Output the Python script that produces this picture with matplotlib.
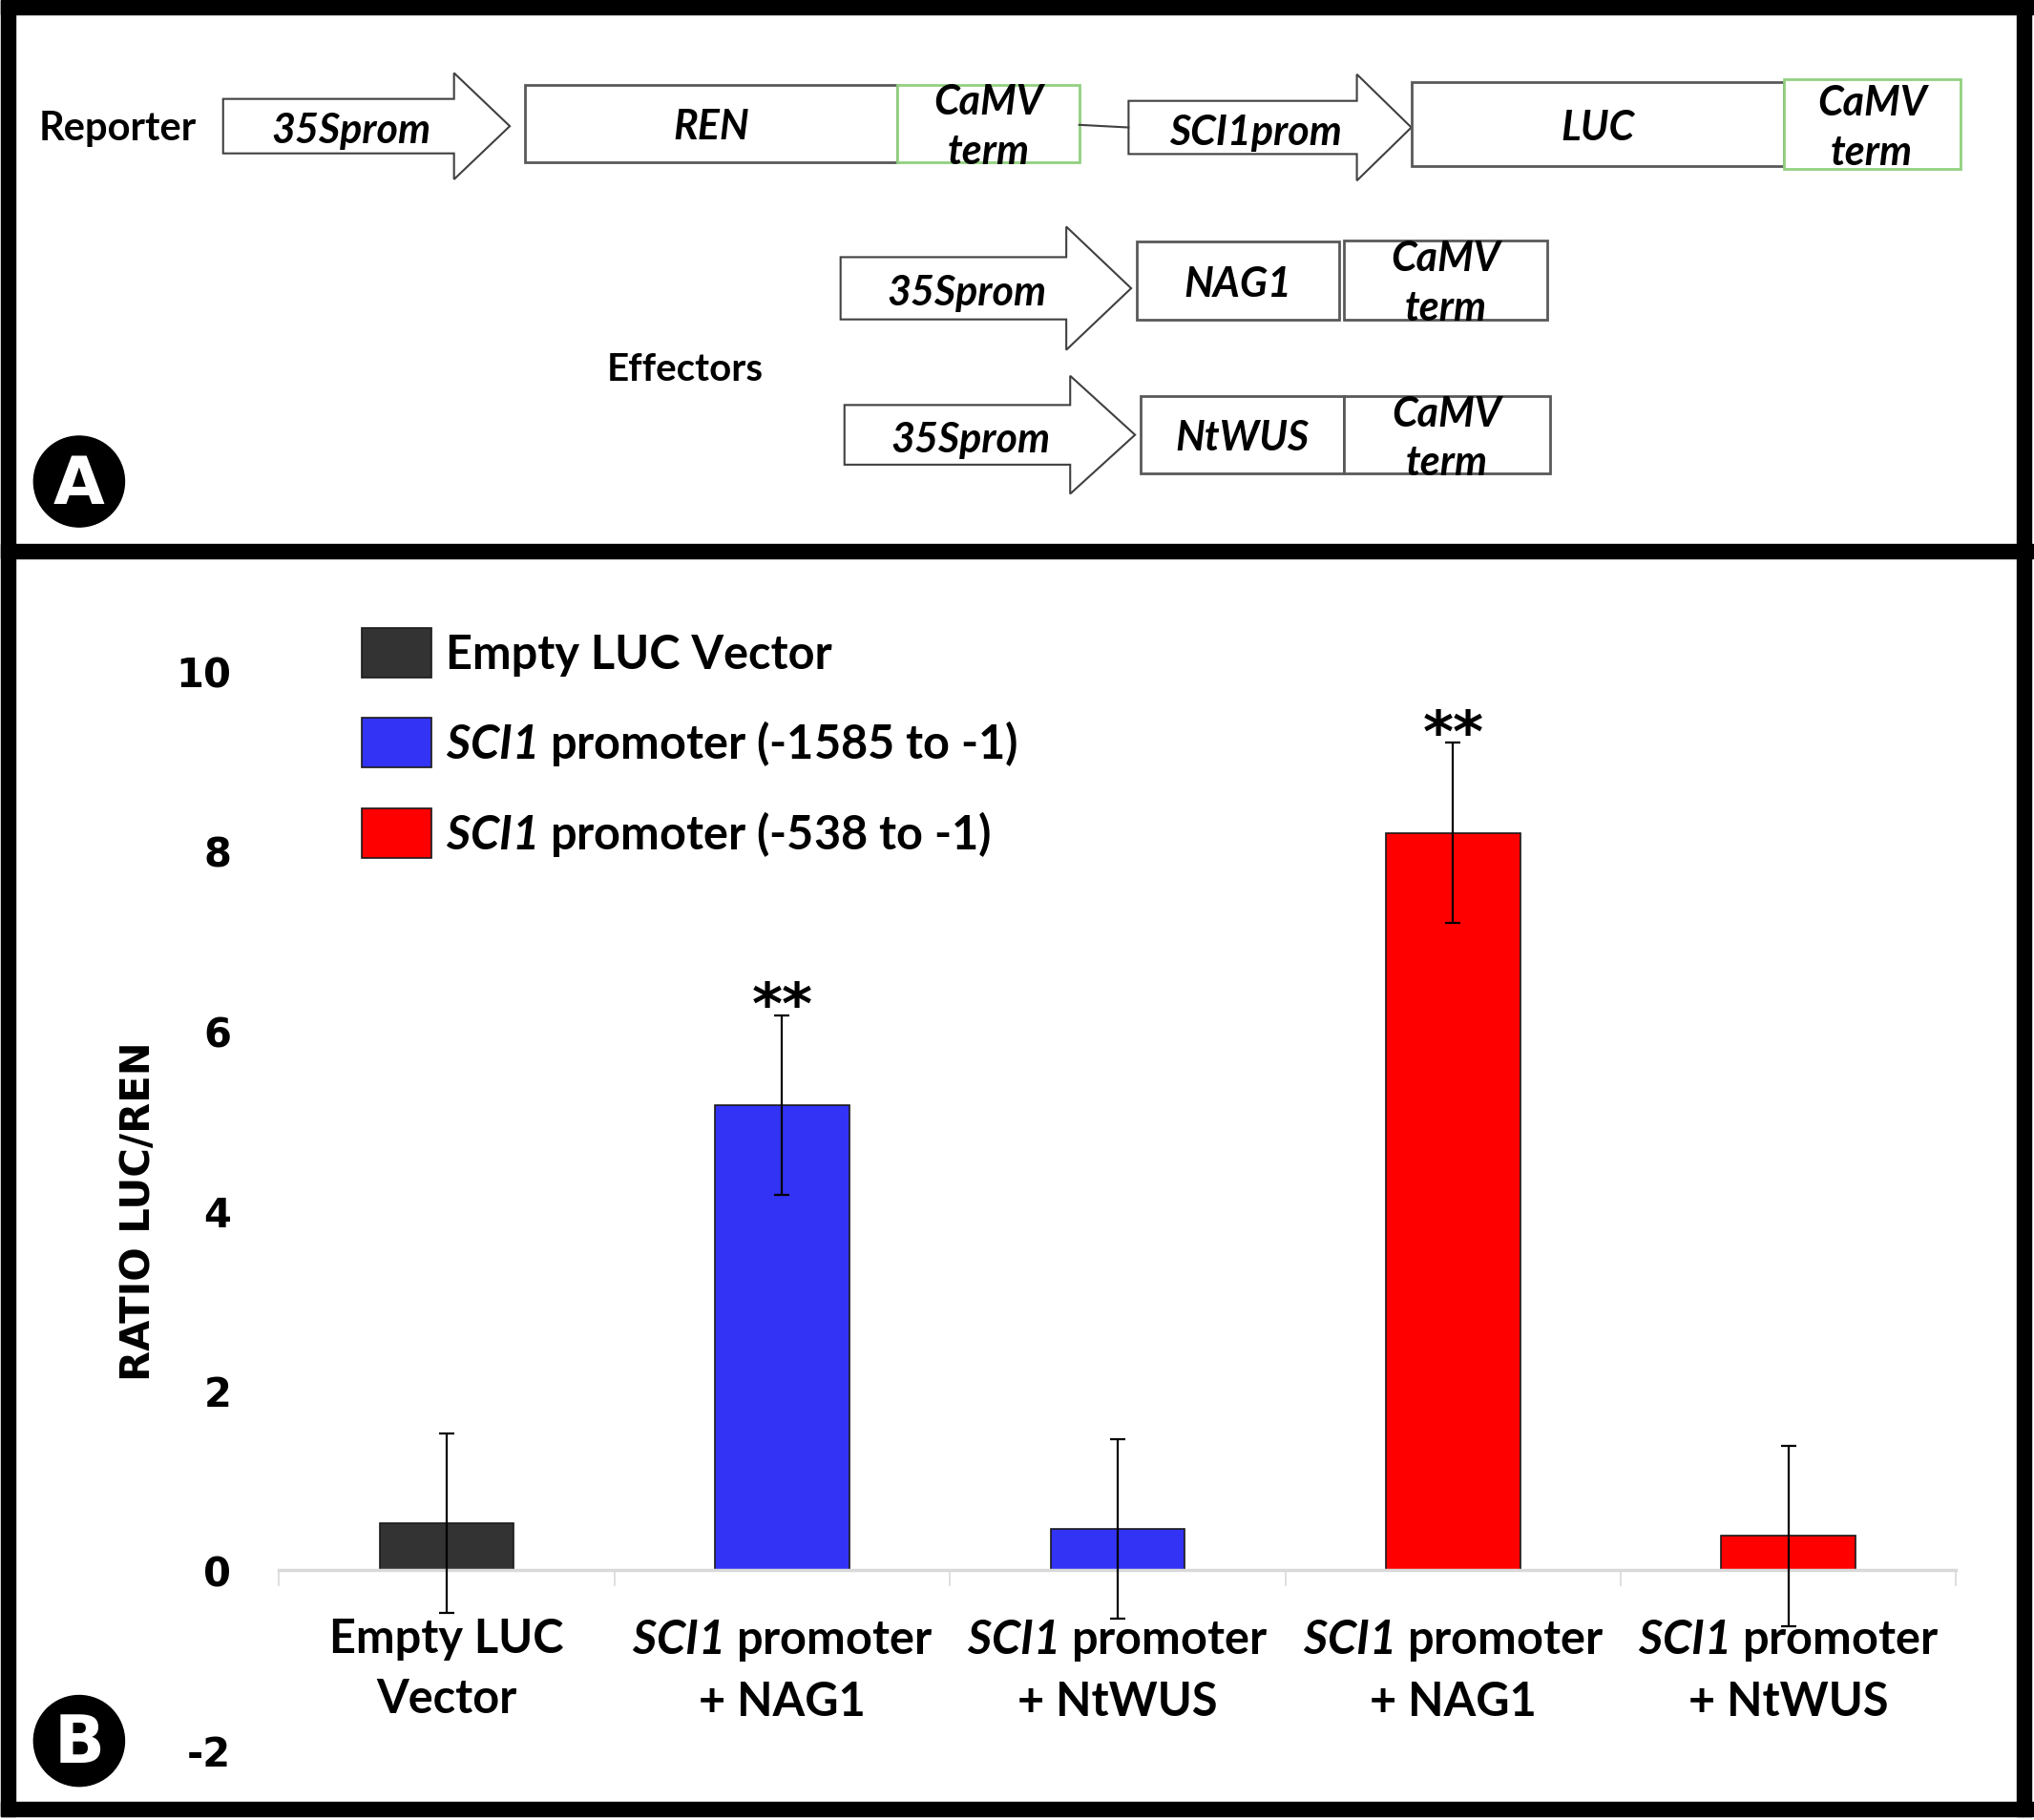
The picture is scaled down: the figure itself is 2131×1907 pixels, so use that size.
import numpy as np
import matplotlib
matplotlib.use("Agg")
import matplotlib.pyplot as plt
from matplotlib.patches import Rectangle, Polygon, Circle

plt.rcParams['font.family'] = ['Lato', 'DejaVu Sans']
plt.rcParams['mathtext.fontset'] = 'custom'
# math parts are only used for the italic gene name, digits included
plt.rcParams['mathtext.it'] = 'Lato:italic:bold'
plt.rcParams['mathtext.rm'] = 'Lato:italic:bold'

# data
groups = ['Empty LUC\nVector',
          r'$\mathrm{SCI1}$ promoter' + '\n+ NAG1',
          r'$\mathrm{SCI1}$ promoter' + '\n+ NtWUS',
          r'$\mathrm{SCI1}$ promoter' + '\n+ NAG1',
          r'$\mathrm{SCI1}$ promoter' + '\n+ NtWUS']
ratio = [0.52, 5.17, 0.46, 8.2, 0.38]
err = [1.0, 1.0, 1.0, 1.0, 1.0]
signif = ['', '**', '', '**', '']
colors = ['#333333', '#3333f5', '#3333f5', '#ff0000', '#ff0000']
legend_labels = ['Empty LUC Vector',
                 r'$\mathrm{SCI1}$ promoter (-1585 to -1)',
                 r'$\mathrm{SCI1}$ promoter (-538 to -1)']
legend_colors = ['#333333', '#3333f5', '#ff0000']
yticks = [-2, 0, 2, 4, 6, 8, 10]

W, H = 1568, 1404
fig = plt.figure(figsize=(21.31, 19.08), dpi=100)
fig.patch.set_facecolor('white')

# overlay in picture units for the panel frames and the construct diagram
ov = fig.add_axes([0, 0, 1, 1])
ov.set_xlim(0, W)
ov.set_ylim(H, 0)
ov.axis('off')

# frames
k = 'black'
ov.add_patch(Rectangle((1, 1), W - 2, 11, color=k))
ov.add_patch(Rectangle((1, 1), 11, 1400, color=k))
ov.add_patch(Rectangle((1555, 1), 11, 1400, color=k))
ov.add_patch(Rectangle((1, 1390), W - 2, 11, color=k))
ov.add_patch(Rectangle((1, 420), W - 2, 11, color=k))

box_ec = '#595959'
green = '#92d080'
fs_a = 31


def arrow(x0, xh, x1, yc, bh, hh, label):
    pts = [(x0, yc - bh / 2), (xh, yc - bh / 2), (xh, yc - hh / 2), (x1, yc),
           (xh, yc + hh / 2), (xh, yc + bh / 2), (x0, yc + bh / 2)]
    ov.add_patch(Polygon(pts, closed=True, fc='white', ec='#404040', lw=1.5))
    ov.text((x0 + xh) / 2 + 10, yc + 3, label, ha='center', va='center',
            fontsize=fs_a, fontweight='bold', style='italic')


def box(x0, x1, y0, y1, label, ec=box_ec, two=False):
    ov.add_patch(Rectangle((x0, y0), x1 - x0, y1 - y0, fc='white', ec=ec, lw=2))
    if two:
        yc = (y0 + y1) / 2
        ov.text((x0 + x1) / 2, yc - 17, 'CaMV', ha='center', va='center',
                fontsize=fs_a, fontweight='bold', style='italic')
        ov.text((x0 + x1) / 2, yc + 21, 'term', ha='center', va='center',
                fontsize=fs_a, fontweight='bold', style='italic')
    else:
        ov.text((x0 + x1) / 2, (y0 + y1) / 2 + 2, label, ha='center', va='center',
                fontsize=fs_a, fontweight='bold', style='italic')


ov.text(30, 99, 'Reporter', ha='left', va='center', fontsize=30, fontweight='bold')
arrow(172, 350, 393, 98, 42, 82, '35Sprom')
box(405, 692, 66, 126, 'REN')
box(692, 832, 66, 126, '', ec=green, two=True)
ov.plot([832, 870], [97, 99], color='#404040', lw=1.5)
arrow(870, 1046, 1088, 99, 41, 82, 'SCI1prom')
box(1088, 1375, 64, 129, 'LUC')
box(1375, 1511, 62, 131, '', ec=green, two=True)

ov.text(468, 285, 'Effectors', ha='left', va='center', fontsize=29, fontweight='bold')
arrow(648, 822, 872, 223, 48, 95, '35Sprom')
box(876, 1032, 187, 247, 'NAG1')
box(1036, 1193, 186, 247, '', two=True)
arrow(651, 825, 875, 336, 46, 91, '35Sprom')
box(879, 1036, 306, 366, 'NtWUS')
box(1036, 1195, 306, 366, '', two=True)

for (cx, cy, letter) in [(61, 372, 'A'), (61, 1343, 'B')]:
    ov.add_patch(Circle((cx, cy), 35, color='black'))
    ov.text(cx, cy + 2, letter, ha='center', va='center', color='white',
            fontsize=50, fontweight='bold', family='DejaVu Sans')

# bar chart panel
left, right, top, bottom = 215, 1508, 518, 1350
ax = fig.add_axes([left / W, 1 - bottom / H, (right - left) / W, (bottom - top) / H])
ax.patch.set_alpha(0)
x = np.arange(len(ratio))
bars = ax.bar(x, ratio, width=0.4, color=colors, edgecolor='#1a1a1a', linewidth=1.2, zorder=2)
ax.errorbar(x, ratio, yerr=err, fmt='none', ecolor='black', elinewidth=1.6,
            capsize=6, capthick=1.6, zorder=3)
for xi, v, e, s in zip(x, ratio, err, signif):
    if s:
        ax.text(xi, v + e - 0.23, s, ha='center', va='bottom', fontsize=44,
                fontweight='bold', family='DejaVu Sans')

ax.set_xlim(-0.5, len(ratio) - 0.5)
ax.set_ylim(-2, 10)
for sp in ['left', 'right', 'top']:
    ax.spines[sp].set_visible(False)
ax.spines['bottom'].set_position(('data', 0))
ax.spines['bottom'].set_color('#d9d9d9')
ax.spines['bottom'].set_linewidth(2.5)
ax.set_xticks(x)
ax.set_xticklabels(groups, fontsize=35, fontweight='bold', linespacing=1.5)
ax.set_xticks(np.arange(-0.5, len(ratio)), minor=True)
ax.tick_params(axis='x', which='major', length=0, pad=35)
ax.tick_params(axis='x', which='minor', length=12, width=1.2, color='#d9d9d9')
ax.set_yticks(yticks)
ax.set_yticklabels([str(t) for t in yticks], fontsize=30, fontweight='bold',
                   family='DejaVu Sans')
ax.tick_params(axis='y', length=0, pad=36)
ax.set_ylabel('RATIO LUC/REN', fontsize=30, fontweight='bold', family='DejaVu Sans')
ax.yaxis.set_label_coords(-0.072, 0.5)

handles = [Rectangle((0, 0), 1, 1, fc=c, ec='#1a1a1a', lw=1.2) for c in legend_colors]
leg = ax.legend(handles, legend_labels, loc='upper left', frameon=False,
                bbox_to_anchor=(279, 485), bbox_transform=ov.transData,
                prop={'size': 35, 'weight': 'bold'}, handlelength=1.5,
                handleheight=1.25, handletextpad=0.3, labelspacing=0.88,
                borderpad=0, borderaxespad=0)

fig.savefig('out.png', dpi=100, facecolor='white')
